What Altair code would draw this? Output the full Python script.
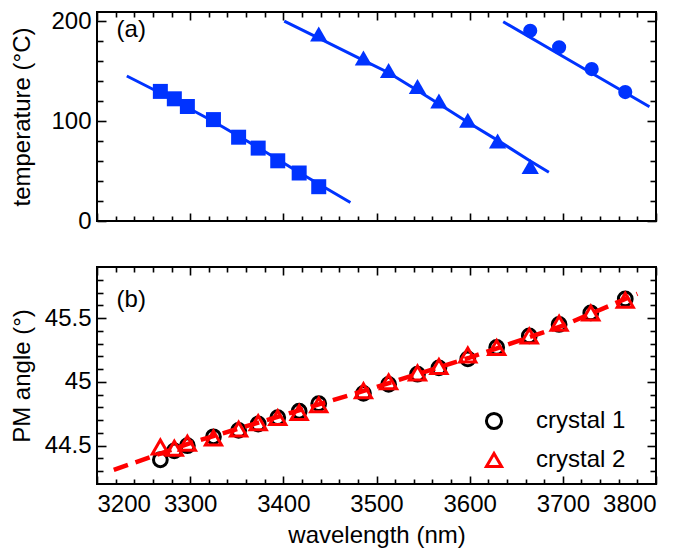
import altair as alt
import pandas as pd

BLUE = "#0033ff"
RED = "#ff0000"
FONT = "Liberation Sans"

# ---------------- panel (a): phase-matching temperature ----------------
sq_wl = [3268, 3283, 3297, 3325, 3352, 3373, 3394, 3417, 3438]
sq_T = [129.6, 122.2, 114.5, 101.4, 83.8, 72.9, 60.2, 48.0, 34.3]
tri_wl = [3438, 3486, 3513, 3544, 3567, 3598, 3630, 3665]
tri_T = [187.1, 163.1, 150.4, 134.4, 120.0, 100.8, 79.9, 54.4]
cir_wl = [3665, 3696, 3731, 3767]
cir_T = [190.3, 173.7, 151.9, 128.9]

fit1_wl = [3232, 3269, 3325, 3373, 3417, 3472]
fit1_T = [145.0, 127.5, 99.5, 73.5, 48.5, 18.5]
fit2_wl = [3401, 3438, 3486, 3513, 3544, 3568, 3598, 3631, 3665, 3685]
fit2_T = [199.9, 182.9, 160.7, 148.3, 130.4, 116.5, 98.7, 80.1, 60.1, 48.7]
fit3_wl = [3636, 3715, 3793]
fit3_T = [199.3, 156.5, 114.2]

# ---------------- panel (b): phase-matching angle ----------------
pm_wl = [3268, 3283, 3297, 3325, 3352, 3373, 3394, 3417, 3438, 3486, 3513,
         3544, 3567, 3598, 3629, 3664, 3696, 3730, 3767]
pm_c1 = [44.39, 44.46, 44.50, 44.57, 44.62, 44.67, 44.72, 44.77, 44.83, 44.91, 44.98,
         45.06, 45.11, 45.18, 45.27, 45.36, 45.45, 45.54, 45.65]
pm_c2 = [44.49, 44.48, 44.52, 44.56, 44.63, 44.68, 44.72, 44.76, 44.82, 44.93, 45.00,
         45.07, 45.12, 45.21, 45.27, 45.36, 45.46, 45.54, 45.64]
fitb_wl = [3218, 3300, 3400, 3500, 3600, 3700, 3780]
fitb_pm = [44.31, 44.52, 44.74, 44.96, 45.19, 45.44, 45.69]

# ---------------- tick values ----------------
x_major = [3200, 3300, 3400, 3500, 3600, 3700, 3800]
x_minor = [3220, 3240, 3260, 3280, 3320, 3340, 3360, 3380, 3420, 3440, 3460, 3480,
           3520, 3540, 3560, 3580, 3620, 3640, 3660, 3680, 3720, 3740, 3760, 3780]
ya_major = [0, 100, 200]
ya_minor = [20, 40, 60, 80, 120, 140, 160, 180]
yb_major = [44.5, 45, 45.5]
yb_minor = [44.3, 44.4, 44.6, 44.7, 44.8, 44.9, 45.1, 45.2, 45.3, 45.4, 45.6, 45.7, 45.8]

W = 559
HA = 209
HB = 217

xsc = alt.Scale(domain=[3200, 3800], nice=False, zero=False)
ysa = alt.Scale(domain=[0, 209], nice=False, zero=False)
ysb = alt.Scale(domain=[44.2, 45.9], nice=False, zero=False)


def tick_axis(orient, values, size):
    return alt.Axis(orient=orient, values=values, labels=False, domain=False, grid=False,
                    title=None, ticks=True, tickSize=alt.ExprRef(expr=str(-size)),
                    tickWidth=1.6, tickColor="black")


def axis_layer(df, xf, yf, ysc, xaxis, yaxis):
    return alt.Chart(df).mark_point(opacity=0).encode(
        x=alt.X(xf, type="quantitative", scale=xsc, axis=xaxis),
        y=alt.Y(yf, type="quantitative", scale=ysc, axis=yaxis),
    )


def tick_layers(df, xf, yf, ysc, ymaj, ymin):
    return [
        axis_layer(df, xf, yf, ysc, tick_axis("bottom", x_major, 8), tick_axis("left", ymaj, 9)),
        axis_layer(df, xf, yf, ysc, tick_axis("bottom", x_minor, 5), tick_axis("left", ymin, 6)),
        axis_layer(df, xf, yf, ysc, tick_axis("top", x_major, 8), tick_axis("right", ymaj, 9)),
        axis_layer(df, xf, yf, ysc, tick_axis("top", x_minor, 5), tick_axis("right", ymin, 6)),
    ]


# ---------- panel (a) ----------
sq_df = pd.DataFrame({"wl": sq_wl, "T": sq_T})
tri_df = pd.DataFrame({"wl": tri_wl, "T": tri_T})
cir_df = pd.DataFrame({"wl": cir_wl, "T": cir_T})
fit_a = pd.DataFrame({
    "wl": fit1_wl + fit2_wl + fit3_wl,
    "T": fit1_T + fit2_T + fit3_T,
    "grp": ["sq"] * len(fit1_wl) + ["tri"] * len(fit2_wl) + ["cir"] * len(fit3_wl),
})
lab_a = pd.DataFrame({"wl": [3221], "T": [191], "t": ["(a)"]})

xa_none = alt.X("wl:Q", scale=xsc, axis=None)
ya_none = alt.Y("T:Q", scale=ysa, axis=None)

label_a = axis_layer(
    sq_df, "wl", "T", ysa,
    alt.Axis(orient="bottom", values=x_major, labels=False, ticks=False, domain=False,
             grid=False, title=None),
    alt.Axis(orient="left", values=ya_major, ticks=False, domain=False, grid=False,
             labelFontSize=24, labelPadding=6, format="d",
             title="temperature (°C)", titleFontSize=24, titleFontWeight="normal",
             titleX=-63),
)

lines_a = alt.Chart(fit_a).mark_line(color=BLUE, strokeWidth=3).encode(
    x=xa_none, y=ya_none, detail="grp:N")
squares = alt.Chart(sq_df).mark_point(shape="square", filled=True, size=225, color=BLUE,
                                      opacity=1).encode(x=xa_none, y=ya_none)
triangles = alt.Chart(tri_df).mark_point(shape="triangle-up", filled=True, size=300,
                                         color=BLUE, opacity=1).encode(x=xa_none, y=ya_none)
circles = alt.Chart(cir_df).mark_point(shape="circle", filled=True, size=200, color=BLUE,
                                       opacity=1).encode(x=xa_none, y=ya_none)
text_a = alt.Chart(lab_a).mark_text(align="left", baseline="middle", fontSize=24,
                                    font=FONT, color="black").encode(
    x=xa_none, y=ya_none, text="t:N")

panel_a = alt.layer(
    label_a, *tick_layers(sq_df, "wl", "T", ysa, ya_major, ya_minor),
    lines_a, squares, triangles, circles, text_a,
).resolve_axis(x="independent", y="independent").properties(width=W, height=HA)

# ---------- panel (b) ----------
pts = pd.DataFrame({
    "wl": pm_wl + pm_wl,
    "pm": pm_c1 + pm_c2,
    "sample": ["crystal 1"] * len(pm_wl) + ["crystal 2"] * len(pm_wl),
})
fit_b = pd.DataFrame({"wl": fitb_wl, "pm": fitb_pm})
lab_b = pd.DataFrame({"wl": [3221], "pm": [45.64], "t": ["(b)"]})

xb_none = alt.X("wl:Q", scale=xsc, axis=None)
yb_none = alt.Y("pm:Q", scale=ysb, axis=None)

label_b = axis_layer(
    pts, "wl", "pm", ysb,
    alt.Axis(orient="bottom", values=x_major, ticks=False, domain=False, grid=False,
             labelFontSize=24, labelPadding=8, format="d",
             title="wavelength (nm)", titleFontSize=24, titleFontWeight="normal",
             titlePadding=7),
    alt.Axis(orient="left", values=yb_major, ticks=False, domain=False, grid=False,
             labelFontSize=24, labelPadding=6, format="~g",
             title="PM angle (°)", titleFontSize=24, titleFontWeight="normal",
             titleX=-63),
)

color_scale = alt.Scale(domain=["crystal 1", "crystal 2"], range=["black", RED])
shape_scale = alt.Scale(domain=["crystal 1", "crystal 2"], range=["circle", "triangle-up"])
legend = alt.Legend(title=None, orient="none", legendX=385, legendY=397,
                    labelFontSize=24, labelFont=FONT, labelColor="black",
                    symbolSize=230, symbolStrokeWidth=3, labelOffset=30,
                    rowPadding=12, padding=0)

pts_c1 = alt.Chart(pts).transform_filter("datum.sample == 'crystal 1'").mark_point(
    filled=False, size=190, strokeWidth=3, opacity=1).encode(
    x=xb_none, y=yb_none,
    color=alt.Color("sample:N", scale=color_scale, legend=legend),
    shape=alt.Shape("sample:N", scale=shape_scale, legend=legend),
)
pts_c2 = alt.Chart(pts).transform_filter("datum.sample == 'crystal 2'").mark_point(
    filled=False, size=260, strokeWidth=3, opacity=1).encode(
    x=xb_none, y=yb_none,
    color=alt.Color("sample:N", scale=color_scale, legend=legend),
    shape=alt.Shape("sample:N", scale=shape_scale, legend=legend),
)
line_b = alt.Chart(fit_b).mark_line(color=RED, strokeWidth=4.5, strokeDash=[15, 8]).encode(
    x=xb_none, y=yb_none)
text_b = alt.Chart(lab_b).mark_text(align="left", baseline="middle", fontSize=24,
                                    font=FONT, color="black").encode(
    x=xb_none, y=yb_none, text="t:N")

panel_b = alt.layer(
    label_b, *tick_layers(pts, "wl", "pm", ysb, yb_major, yb_minor),
    pts_c1, line_b, pts_c2, text_b,
).resolve_axis(x="independent", y="independent").properties(width=W, height=HB)

chart = alt.vconcat(panel_a, panel_b, spacing=31).properties(
    padding={"left": 0, "top": 0, "right": 0, "bottom": 0}
).configure_view(stroke="black", strokeWidth=2).configure_axis(
    labelFont=FONT, titleFont=FONT, labelColor="black", titleColor="black"
).configure_text(font=FONT)

chart.save("out.html", embed_options={"renderer": "svg", "actions": False})
